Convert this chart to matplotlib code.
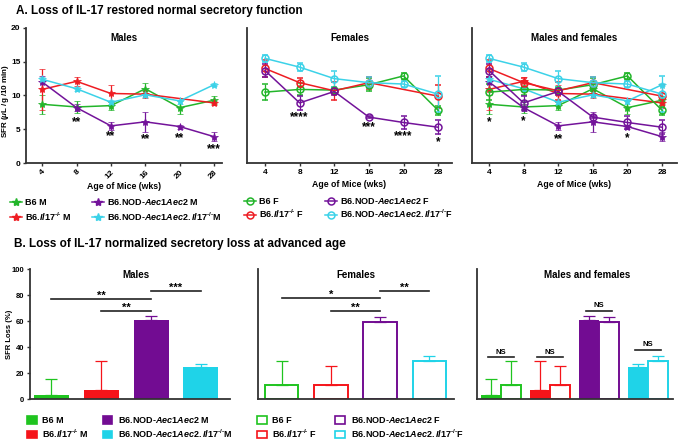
import numpy as np
import matplotlib
matplotlib.use('Agg')
import matplotlib.pyplot as plt
from matplotlib.lines import Line2D
from matplotlib.patches import Patch

plt.rcParams['font.family'] = ['Liberation Sans', 'DejaVu Sans']
plt.rcParams['font.weight'] = 'bold'
plt.rcParams['axes.titleweight'] = 'bold'
plt.rcParams['axes.labelweight'] = 'bold'
plt.rcParams['mathtext.fontset'] = 'custom'
plt.rcParams['mathtext.rm'] = 'Liberation Sans:bold'
plt.rcParams['mathtext.it'] = 'Liberation Sans:italic:bold'
plt.rcParams['mathtext.bf'] = 'Liberation Sans:bold'
plt.rcParams['axes.linewidth'] = 1.3
plt.rcParams['axes.edgecolor'] = '#333333'

# ---- data: panel A (SFR, uL/g/10 min) ----
ages = ['4', '8', '12', '16', '20', '28']
nan = np.nan

b6_m = [8.7, 8.3, 8.5, 11.0, 8.2, 9.3]
b6_m_err = [1.4, 0.9, 0.6, 0.9, 1.0, 0.6]
il17_m = [10.9, 12.1, 10.3, 10.2, nan, 8.9]
il17_m_err = [3.0, 0.7, 1.3, 0.5, nan, 0.3]
nod_m = [12.0, 8.2, 5.5, 6.1, 5.4, 3.9]
nod_m_err = [0.9, 0.5, 0.6, 1.5, 0.3, 0.7]
nodil17_m = [12.4, 11.0, 9.0, 10.1, 9.2, 11.6]
nodil17_m_err = [0.3, 0.3, 0.3, 0.3, 0.4, 0.2]

b6_f = [10.5, 10.9, 10.8, 11.6, 12.9, 7.8]
b6_f_err = [1.2, 0.9, 0.5, 1.0, 0.5, 0.7]
il17_f = [14.0, 11.9, 10.7, 11.9, nan, 9.9]
il17_f_err = [1.2, 0.7, 1.3, 0.9, nan, 1.7]
nod_f = [13.7, 8.9, 10.6, 6.8, 6.0, 5.3]
nod_f_err = [0.9, 1.0, 0.5, 0.2, 0.9, 1.0]
nodil17_f = [15.5, 14.2, 12.5, 11.9, 11.7, 10.2]
nodil17_f_err = [0.5, 0.6, 1.2, 0.8, 0.4, 2.7]

# significance marks (age index, y, label)
sig_m = [(1, 6.4, '**'), (2, 4.3, '**'), (3, 3.9, '**'), (4, 4.1, '**'), (5, 2.4, '***')]
sig_f = [(1, 7.1, '****'), (3, 5.6, '***'), (4, 4.3, '****'), (5, 3.4, '*')]
sig_mf = [(0, 6.4, '*'), (1, 6.5, '*'), (2, 3.9, '**'), (4, 4.0, '*')]

# ---- data: panel B (SFR loss, %) ----
loss_m = [3, 7, 60.5, 24.5]
loss_m_err = [12.5, 22, 3.5, 2.5]
loss_f = [10.5, 10.5, 59, 29]
loss_f_err = [18.5, 15, 4, 4]
brackets_m = [(0, 2, 77, '**'), (1, 2, 67.7, '**'), (2, 3, 83, '***')]
brackets_f = [(0, 2, 77.5, '*'), (1, 2, 67.7, '**'), (2, 3, 83, '**')]
ns_y = [32, 32, 68, 38]

GREEN = '#22b52a'
RED = '#ee1d23'
PURPLE = '#73139a'
CYAN = '#3cd2e8'
BAR_GREEN = '#1fc41f'
BAR_RED = '#f5141a'
BAR_PURPLE = '#720c92'
BAR_CYAN = '#1fd3e8'
colors = [GREEN, RED, PURPLE, CYAN]
bar_colors = [BAR_GREEN, BAR_RED, BAR_PURPLE, BAR_CYAN]

KO = r'^{\text{-/-}}'
lab_m = ['B6 M', r'B6.$\mathit{Il17}' + KO + '$ M',
         r'B6.NOD-$\mathit{Aec1Aec2}$ M', r'B6.NOD-$\mathit{Aec1Aec2.Il17}' + KO + '$M']
lab_f = ['B6 F', r'B6.$\mathit{Il17}' + KO + '$ F',
         r'B6.NOD-$\mathit{Aec1Aec2}$ F', r'B6.NOD-$\mathit{Aec1Aec2.Il17}' + KO + '$F']

W, H = 685, 444
fig = plt.figure(figsize=(W / 100, H / 100), dpi=100)


def px_axes(l, t, r, b):
    return fig.add_axes([l / W, 1 - b / H, (r - l) / W, (b - t) / H])


def style(ax):
    for s in ['top', 'right']:
        ax.spines[s].set_visible(False)
    ax.tick_params(labelsize=6, width=1, length=2.5, color='#333333', pad=1.5)


def draw_lines(ax, series, marker):
    x = np.arange(len(ages))
    for vals, errs, col in series:
        v = np.array(vals, float)
        e = np.array(errs, float)
        ok = ~np.isnan(v)
        if marker == '*':
            ax.errorbar(x[ok], v[ok], yerr=e[ok], color=col, lw=1.1, marker='*', ms=6,
                        mew=0.5, capsize=2, elinewidth=0.9, capthick=0.9)
        else:
            ax.errorbar(x[ok], v[ok], yerr=e[ok], color=col, lw=1.1, marker='o', ms=5,
                        mfc='none', mew=1.1, capsize=2, elinewidth=0.9, capthick=0.9)


def stars(ax, items):
    for i, y, s in items:
        ax.text(i, y - 0.35, s, ha='center', va='center', fontsize=8.5)


males = [(b6_m, b6_m_err, GREEN), (il17_m, il17_m_err, RED),
         (nod_m, nod_m_err, PURPLE), (nodil17_m, nodil17_m_err, CYAN)]
females = [(b6_f, b6_f_err, GREEN), (il17_f, il17_f_err, RED),
           (nod_f, nod_f_err, PURPLE), (nodil17_f, nodil17_f_err, CYAN)]

fig.text(16 / W, 1 - 11 / H, 'A. Loss of IL-17 restored normal secretory function',
         fontsize=8.5, va='center', ha='left')

# Males line panel
ax1 = px_axes(26, 28, 222, 163)
draw_lines(ax1, males, '*')
ax1.set_xlim(-0.47, 5.23)
ax1.set_ylim(0, 20)
ax1.set_yticks([0, 5, 10, 15, 20])
ax1.set_xticks(range(len(ages)))
ax1.set_xticklabels(ages, rotation=45, ha='right', rotation_mode='anchor')
style(ax1)
ax1.set_ylabel(r'SFR ($\mu$L /g /10 min)', fontsize=5.8)
ax1.yaxis.set_label_coords(-0.075, 0.46)
ax1.set_xlabel('Age of Mice (wks)', fontsize=6.3, labelpad=1)
ax1.set_title('Males', fontsize=7, y=0.84)
stars(ax1, sig_m)

# Females line panel
ax2 = px_axes(247, 28, 452, 163)
draw_lines(ax2, females, 'o')
ax2.set_xlim(-0.52, 5.4)
ax2.set_ylim(0, 20)
ax2.set_yticks([])
ax2.set_xticks(range(len(ages)))
ax2.set_xticklabels(ages)
style(ax2)
ax2.set_xlabel('Age of Mice (wks)', fontsize=6.3, labelpad=3)
ax2.set_title('Females', fontsize=7, y=0.84)
stars(ax2, sig_f)

# Males and females line panel
ax3 = px_axes(472, 28, 677, 163)
draw_lines(ax3, males, '*')
draw_lines(ax3, females, 'o')
ax3.set_xlim(-0.49, 5.43)
ax3.set_ylim(0, 20)
ax3.set_yticks([])
ax3.set_xticks(range(len(ages)))
ax3.set_xticklabels(ages)
style(ax3)
ax3.set_xlabel('Age of Mice (wks)', fontsize=6.3, labelpad=3)
ax3.set_title('Males and females', fontsize=7, y=0.84)
stars(ax3, sig_mf)

# top legends
hm = [Line2D([], [], color=c, marker='*', ms=6, lw=1.1) for c in colors]
hf = [Line2D([], [], color=c, marker='o', ms=5, mfc='none', mew=1.1, lw=1.1) for c in colors]
fig.legend(hm, lab_m, ncol=2, loc='upper left', bbox_to_anchor=(10 / W, 1 - 197 / H),
           frameon=False, fontsize=6.5, handlelength=1.3, handletextpad=0.4,
           columnspacing=2.2, labelspacing=0.35, borderaxespad=0, borderpad=0)
fig.legend(hf, lab_f, ncol=2, loc='upper left', bbox_to_anchor=(244 / W, 1 - 196 / H),
           frameon=False, fontsize=6.5, handlelength=1.3, handletextpad=0.4,
           columnspacing=2.3, labelspacing=0.2, borderaxespad=0, borderpad=0)

# ---- panel B ----
fig.text(14 / W, 1 - 244 / H, 'B. Loss of IL-17 normalized secretory loss at advanced age',
         fontsize=8.5, va='center', ha='left')

xb = np.arange(4)


def bar_style(ax):
    for s in ['top', 'right']:
        ax.spines[s].set_visible(False)
    ax.set_xticks([])
    ax.set_ylim(0, 100)
    ax.tick_params(labelsize=5.5, width=1, length=2.5, color='#333333', pad=1.5)


def up_err(ax, x, y, e, col):
    ax.errorbar([x], [y], yerr=[[0], [e]], fmt='none', ecolor=col, elinewidth=0.9,
                capsize=4, capthick=0.9)


def brackets(ax, items):
    for a, b, y, s in items:
        ax.plot([a, b], [y, y], color='#222222', lw=1.2)
        ax.text((a + b) / 2, y - 1.5, s, ha='center', va='bottom', fontsize=8)


# Males bars
bx1 = px_axes(30, 269, 230, 399)
for i in xb:
    bx1.bar(i, loss_m[i], width=0.7, color=bar_colors[i], lw=0)
    up_err(bx1, i, loss_m[i], loss_m_err[i], bar_colors[i])
bx1.set_xlim(-0.42, 3.58)
bar_style(bx1)
bx1.set_yticks([0, 20, 40, 60, 80, 100])
bx1.set_ylabel('SFR Loss (%)', fontsize=5.5)
bx1.yaxis.set_label_coords(-0.085, 0.5)
bx1.set_title('Males', fontsize=7, y=0.87, x=0.53)
brackets(bx1, brackets_m)

# Females bars
bx2 = px_axes(258, 269, 454, 399)
for i in xb:
    bx2.bar(i, loss_f[i], width=0.68, color='white', edgecolor=bar_colors[i], lw=1.4)
    up_err(bx2, i, loss_f[i], loss_f_err[i], bar_colors[i])
bx2.set_xlim(-0.48, 3.5)
bar_style(bx2)
bx2.set_yticks([])
bx2.set_title('Females', fontsize=7, y=0.87)
brackets(bx2, brackets_f)

# Males and females bars
bx3 = px_axes(477, 269, 673, 399)
for i in xb:
    bx3.bar(i - 0.2, loss_m[i], width=0.4, color=bar_colors[i], lw=0)
    up_err(bx3, i - 0.2, loss_m[i], loss_m_err[i], bar_colors[i])
    bx3.bar(i + 0.2, loss_f[i], width=0.4, color='white', edgecolor=bar_colors[i], lw=1.4)
    up_err(bx3, i + 0.2, loss_f[i], loss_f_err[i], bar_colors[i])
    bx3.plot([i - 0.27, i + 0.27], [ns_y[i], ns_y[i]], color='#222222', lw=1.2)
    bx3.text(i, ns_y[i] + 1.2, 'NS', ha='center', va='bottom', fontsize=5.5)
bx3.set_xlim(-0.49, 3.51)
bar_style(bx3)
bx3.set_yticks([])
bx3.set_title('Males and females', fontsize=7, y=0.87, x=0.56)

# bottom legends
pm = [Patch(facecolor=c, edgecolor=c, lw=1.2) for c in bar_colors]
pf = [Patch(facecolor='white', edgecolor=c, lw=1.2) for c in bar_colors]
fig.legend(pm, lab_m, ncol=2, loc='upper left', bbox_to_anchor=(27 / W, 1 - 415 / H),
           frameon=False, fontsize=6.5, handlelength=1.1, handleheight=0.9,
           handletextpad=0.6, columnspacing=1.5, labelspacing=0.25, borderaxespad=0,
           borderpad=0)
fig.legend(pf, lab_f, ncol=2, loc='upper left', bbox_to_anchor=(257 / W, 1 - 415 / H),
           frameon=False, fontsize=6.5, handlelength=1.1, handleheight=0.9,
           handletextpad=0.6, columnspacing=2.0, labelspacing=0.25, borderaxespad=0,
           borderpad=0)

fig.savefig('out.png', dpi=100)
